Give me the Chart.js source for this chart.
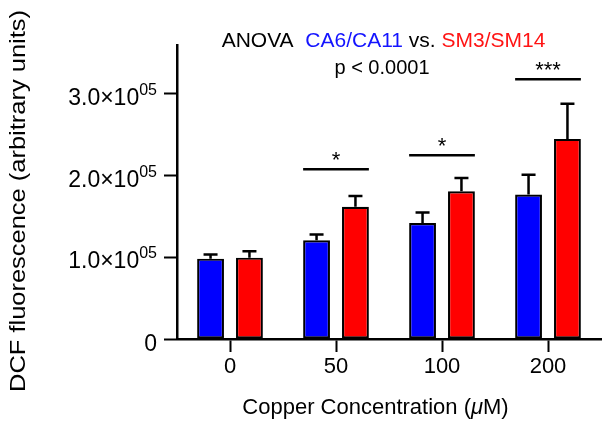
<!DOCTYPE html>
<html>
<head>
<meta charset="utf-8">
<script src="https://cdn.jsdelivr.net/npm/chart.js@4.4.4/dist/chart.umd.min.js"></script>
<style>
  html, body { margin: 0; padding: 0; background: #fff; }
</style>
</head>
<body>
<canvas id="chart" width="604" height="429"></canvas>
<script>
// copper concentration groups (uM)
const categories = ['0', '50', '100', '200']
// CA6/CA11 (blue) and SM3/SM14 (red) means, with upper SEM
const caValues = [98400, 121000, 142000, 177000]
const caErrors = [5000, 7000, 13000, 24000]
const smValues = [99600, 162000, 181000, 245000]
const smErrors = [7700, 13000, 16000, 43000]
const yTicks = [0, 100000, 200000, 300000]
// significance bars per group
const sigGroups = [1, 2, 3]
const sigHeights = [208000, 225000, 318000]
const sigMarks = ['*', '*', '***']

const FONT = "'Liberation Sans', Arial, Helvetica, sans-serif"
const BLUE = '#0000ff'
const RED = '#ff0000'

const annotations = {
    id: 'annotations',
    afterDatasetsDraw(chart) {
        const ctx = chart.ctx
        const y = chart.scales.y
        ctx.save()
        ctx.strokeStyle = '#000'
        ctx.fillStyle = '#000'
        ctx.lineWidth = 2.5

        // error bars, upper half only
        chart.data.datasets.forEach((ds, di) => {
            const meta = chart.getDatasetMeta(di)
            meta.data.forEach((bar, i) => {
                const top = y.getPixelForValue(ds.data[i] + ds.errors[i])
                ctx.beginPath()
                ctx.moveTo(bar.x, bar.y)
                ctx.lineTo(bar.x, top)
                ctx.moveTo(bar.x - 7, top)
                ctx.lineTo(bar.x + 7, top)
                ctx.stroke()
            })
        })

        // significance lines + stars
        const m0 = chart.getDatasetMeta(0)
        const m1 = chart.getDatasetMeta(1)
        ctx.font = `22px ${FONT}`
        ctx.textAlign = 'center'
        ctx.textBaseline = 'alphabetic'
        sigGroups.forEach((g, k) => {
            const b0 = m0.data[g], b1 = m1.data[g]
            const x0 = b0.x - b0.width / 2
            const x1 = b1.x + b1.width / 2
            const ly = y.getPixelForValue(sigHeights[k])
            ctx.beginPath()
            ctx.moveTo(x0, ly)
            ctx.lineTo(x1, ly)
            ctx.stroke()
            ctx.fillText(sigMarks[k], (x0 + x1) / 2, ly - 2)
        })

        // y tick labels with superscript exponent
        const right = y.right - 20
        ctx.textAlign = 'right'
        y.ticks.forEach(t => {
            const py = y.getPixelForValue(t.value)
            if (t.value === 0) {
                ctx.font = `23px ${FONT}`
                ctx.fillText('0', right, py + 12)
                return
            }
            const exp = Math.floor(Math.log10(t.value))
            const sup = String(exp).padStart(2, '0')
            ctx.font = `16px ${FONT}`
            const sw = ctx.measureText(sup).width
            ctx.fillText(sup, right, py + 1)
            ctx.font = `23px ${FONT}`
            ctx.fillText((t.value / Math.pow(10, exp)).toFixed(1) + '×10', right - sw, py + 11)
        })

        // header
        ctx.font = `21px ${FONT}`
        ctx.textAlign = 'left'
        const parts = [['ANOVA  ', '#000'], ['CA6/CA11', '#1414ff'], [' vs. ', '#000'], ['SM3/SM14', '#ff1414']]
        const total = parts.reduce((s, p) => s + ctx.measureText(p[0]).width, 0)
        let hx = 383.5 - total / 2
        parts.forEach(p => {
            ctx.fillStyle = p[1]
            ctx.fillText(p[0], hx, 47)
            hx += ctx.measureText(p[0]).width
        })
        ctx.fillStyle = '#000'
        ctx.font = `20px ${FONT}`
        ctx.textAlign = 'center'
        ctx.fillText('p < 0.0001', 382, 74)

        // x axis title, italic mu
        const xt = [['Copper Concentration (', ''], ['μ', 'italic '], ['M)', '']]
        let w = 0
        xt.forEach(p => { ctx.font = `${p[1]}22px ${FONT}`; w += ctx.measureText(p[0]).width })
        let tx = 375.5 - w / 2
        ctx.textAlign = 'left'
        ctx.textBaseline = 'middle'
        xt.forEach(p => {
            ctx.font = `${p[1]}22px ${FONT}`
            ctx.fillText(p[0], tx, 408)
            tx += ctx.measureText(p[0]).width
        })

        // y axis title, stretched along its length to match
        const yTitle = 'DCF fluorescence (arbitrary units)'
        ctx.font = `22px ${FONT}`
        const yw = ctx.measureText(yTitle).width
        ctx.translate(19, 201)
        ctx.rotate(-Math.PI / 2)
        ctx.scale(382 / yw, 1)
        ctx.textAlign = 'center'
        ctx.fillText(yTitle, 0, 0)

        ctx.restore()
    }
}

const chart = new Chart(document.getElementById('chart'), {
    type: 'bar',
    data: {
        labels: categories,
        datasets: [
            { data: caValues, errors: caErrors, backgroundColor: BLUE },
            { data: smValues, errors: smErrors, backgroundColor: RED }
        ].map(ds => Object.assign(ds, {
            borderColor: '#000',
            borderWidth: 2.2,
            borderSkipped: false,
            categoryPercentage: 0.734,
            barPercentage: 0.69
        }))
    },
    options: {
        responsive: false,
        animation: false,
        layout: { padding: { left: 0, right: 3, top: 45, bottom: 0 } },
        plugins: {
            legend: { display: false },
            tooltip: { enabled: false }
        },
        scales: {
            x: {
                grid: { offset: false, drawOnChartArea: false, tickLength: 13, tickWidth: 2, tickColor: '#000' },
                border: { color: '#000', width: 2.5 },
                ticks: { color: '#000', font: { family: FONT, size: 22 }, padding: 2, maxRotation: 0 },
                afterFit: s => { s.height = 90 }
            },
            y: {
                min: 0,
                max: 360000,
                ticks: { stepSize: 100000, callback: () => '' },
                afterBuildTicks: s => { s.ticks = yTicks.map(v => ({ value: v })) },
                grid: { drawOnChartArea: false, tickLength: 13, tickWidth: 2, tickColor: '#000' },
                border: { color: '#000', width: 2.5 },
                afterFit: s => { s.width = 177 }
            }
        }
    },
    plugins: [annotations]
})
</script>
</body>
</html>
